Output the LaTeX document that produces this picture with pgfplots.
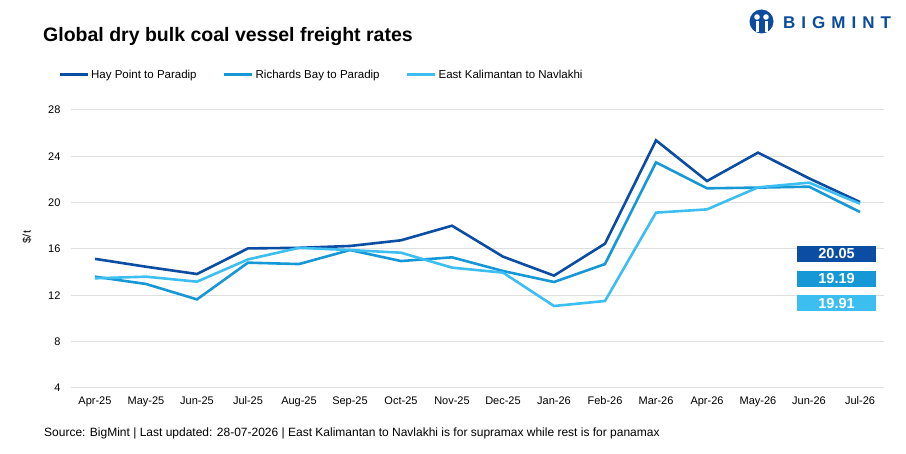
\documentclass[border=0pt]{standalone}
\usepackage{pgfplots}
\pgfplotsset{compat=1.18}
\usepackage{fontspec}
\setmainfont{Liberation Sans}
\definecolor{cdark}{HTML}{0A4DA3}
\definecolor{cmed}{HTML}{1798D6}
\definecolor{clight}{HTML}{3DBEF0}
\definecolor{logoblue}{HTML}{0B4C9F}
\begin{document}
\begin{tikzpicture}
\path[use as bounding box] (0pt,0pt) rectangle (906pt,453pt);
% title
\node[anchor=west,font=\bfseries\fontsize{19.5}{19.5}\selectfont,inner sep=0pt] at (43pt,416pt) {Global dry bulk coal vessel freight rates};
% logo
\fill[logoblue] (761.5pt,431.5pt) circle (12pt);
\fill[white] (757pt,436pt) circle (2.8pt);
\fill[white] (766pt,436pt) circle (2.8pt);
\fill[white] (755.5pt,421pt) rectangle (758.5pt,432pt);
\fill[white] (764.5pt,421pt) rectangle (767.5pt,432pt);
\node[anchor=west,font=\bfseries\fontsize{17}{17}\selectfont,text=logoblue,inner sep=0pt] at (783pt,430pt) {B\kern6pt I\kern6pt G\kern6pt M\kern6pt I\kern6pt N\kern6pt T};
% footer
\node[anchor=west,font=\fontsize{12}{12}\selectfont,inner sep=0pt] at (44pt,20pt) {Source: BigMint | Last updated: 28-07-2026 | East Kalimantan to Navlakhi is for supramax while rest is for panamax};
\begin{axis}[
  at={(71pt,65pt)}, anchor=south west,
  width=813pt, height=278pt, scale only axis,
  xmin=-0.47, xmax=15.47, ymin=4, ymax=28,
  xtick={0,...,15},
  xticklabels={Apr-25,May-25,Jun-25,Jul-25,Aug-25,Sep-25,Oct-25,Nov-25,Dec-25,Jan-26,Feb-26,Mar-26,Apr-26,May-26,Jun-26,Jul-26},
  ytick={4,8,...,28},
  axis line style={draw=none},
  major tick length=0pt,
  ymajorgrids, major grid style={gray!25, line width=1pt},
  /pgf/number format/assume math mode=true,
  yticklabel style={font=\fontsize{11}{11}\selectfont, xshift=-7pt},
  xticklabel style={font=\fontsize{11}{11}\selectfont, anchor=base, yshift=-17pt},
  ylabel={\$/t}, ylabel style={font=\fontsize{11}{11}\selectfont, at={(rel axis cs:0,0.543)}, anchor=center, yshift=44pt},
  legend columns=3,
  legend style={draw=none, fill=none, at={(-0.016,1.126)}, anchor=west, font=\fontsize{11.5}{11.5}\selectfont,
     /tikz/every even column/.append style={column sep=24pt}, inner sep=0pt},
  legend image code/.code={\draw[#1,line width=3pt] (0pt,0pt) -- (28pt,0pt);},
  every axis plot/.append style={line width=2.6pt, line join=miter, mark=none},
  clip=false,
]
\addplot[cdark] coordinates {(0,15.15)(1,14.47)(2,13.84)(3,16.05)(4,16.1)(5,16.26)(6,16.75)(7,18.01)(8,15.34)(9,13.7)(10,16.46)(11,25.38)(12,21.87)(13,24.32)(14,22.1)(15,20.05)};
\addlegendentry{Hay Point to Paradip}
\addplot[cmed] coordinates {(0,13.61)(1,12.98)(2,11.65)(3,14.82)(4,14.7)(5,15.91)(6,14.96)(7,15.28)(8,14.1)(9,13.15)(10,14.7)(11,23.48)(12,21.24)(13,21.3)(14,21.38)(15,19.19)};
\addlegendentry{Richards Bay to Paradip}
\addplot[clight] coordinates {(0,13.47)(1,13.61)(2,13.18)(3,15.1)(4,16.1)(5,15.91)(6,15.68)(7,14.39)(8,13.96)(9,11.08)(10,11.51)(11,19.14)(12,19.42)(13,21.32)(14,21.73)(15,19.91)};
\addlegendentry{East Kalimantan to Navlakhi}
\node[fill=cdark,text=white,font=\bfseries\fontsize{14.5}{14.5}\selectfont,minimum width=79pt,minimum height=16pt,inner sep=0pt] at (axis cs:14.54,15.57) {20.05};
\node[fill=cmed,text=white,font=\bfseries\fontsize{14.5}{14.5}\selectfont,minimum width=79pt,minimum height=16pt,inner sep=0pt] at (axis cs:14.54,13.45) {19.19};
\node[fill=clight,text=white,font=\bfseries\fontsize{14.5}{14.5}\selectfont,minimum width=79pt,minimum height=16pt,inner sep=0pt] at (axis cs:14.54,11.33) {19.91};
\end{axis}
\end{tikzpicture}
\end{document}
